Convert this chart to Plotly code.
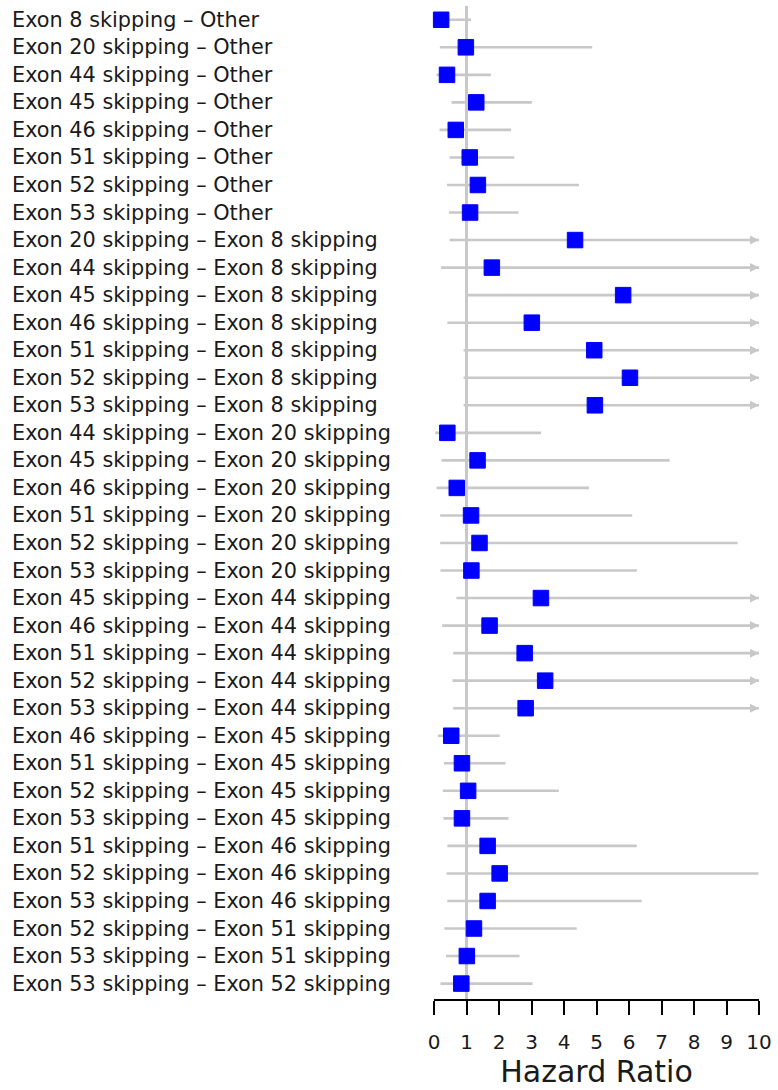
import plotly.graph_objects as go

# Pairwise comparisons (top to bottom)
labels = [
    "Exon 8 skipping – Other",
    "Exon 20 skipping – Other",
    "Exon 44 skipping – Other",
    "Exon 45 skipping – Other",
    "Exon 46 skipping – Other",
    "Exon 51 skipping – Other",
    "Exon 52 skipping – Other",
    "Exon 53 skipping – Other",
    "Exon 20 skipping – Exon 8 skipping",
    "Exon 44 skipping – Exon 8 skipping",
    "Exon 45 skipping – Exon 8 skipping",
    "Exon 46 skipping – Exon 8 skipping",
    "Exon 51 skipping – Exon 8 skipping",
    "Exon 52 skipping – Exon 8 skipping",
    "Exon 53 skipping – Exon 8 skipping",
    "Exon 44 skipping – Exon 20 skipping",
    "Exon 45 skipping – Exon 20 skipping",
    "Exon 46 skipping – Exon 20 skipping",
    "Exon 51 skipping – Exon 20 skipping",
    "Exon 52 skipping – Exon 20 skipping",
    "Exon 53 skipping – Exon 20 skipping",
    "Exon 45 skipping – Exon 44 skipping",
    "Exon 46 skipping – Exon 44 skipping",
    "Exon 51 skipping – Exon 44 skipping",
    "Exon 52 skipping – Exon 44 skipping",
    "Exon 53 skipping – Exon 44 skipping",
    "Exon 46 skipping – Exon 45 skipping",
    "Exon 51 skipping – Exon 45 skipping",
    "Exon 52 skipping – Exon 45 skipping",
    "Exon 53 skipping – Exon 45 skipping",
    "Exon 51 skipping – Exon 46 skipping",
    "Exon 52 skipping – Exon 46 skipping",
    "Exon 53 skipping – Exon 46 skipping",
    "Exon 52 skipping – Exon 51 skipping",
    "Exon 53 skipping – Exon 51 skipping",
    "Exon 53 skipping – Exon 52 skipping",
]

# Hazard ratio point estimates
hazard_ratio = [
    0.22, 0.98, 0.40, 1.30, 0.67, 1.10, 1.35, 1.11,
    4.34, 1.78, 5.82, 3.01, 4.93, 6.03, 4.95,
    0.41, 1.34, 0.70, 1.14, 1.40, 1.15,
    3.29, 1.71, 2.79, 3.42, 2.82,
    0.53, 0.86, 1.05, 0.86,
    1.65, 2.02, 1.65,
    1.23, 1.01,
    0.84,
]

# Lower confidence limits
ci_lower = [
    0.10, 0.18, 0.08, 0.54, 0.17, 0.48, 0.40, 0.46,
    0.48, 0.22, 1.04, 0.41, 0.91, 0.91, 0.91,
    0.04, 0.23, 0.08, 0.19, 0.19, 0.20,
    0.69, 0.25, 0.59, 0.57, 0.59,
    0.12, 0.31, 0.27, 0.29,
    0.41, 0.39, 0.41,
    0.32, 0.37,
    0.20,
]

# Upper confidence limits (None = extends past the axis limit)
ci_upper = [
    1.14, 4.87, 1.75, 3.01, 2.37, 2.47, 4.46, 2.60,
    None, None, None, None, None, None, None,
    3.29, 7.25, 4.77, 6.10, 9.34, 6.24,
    None, None, None, None, None,
    2.02, 2.20, 3.84, 2.29,
    6.24, 9.98, 6.39,
    4.39, 2.63,
    3.03,
]

x_ticks = [0, 1, 2, 3, 4, 5, 6, 7, 8, 9, 10]
X_MAX = 10
REF_VALUE = 1

GREY = "#c8c8c8"
BLUE = "#0000ff"
FONT = "DejaVu Sans"

rows = list(range(len(labels)))

fig = go.Figure()

# Confidence-interval segments, clipped at the axis limit
seg_x, seg_y = [], []
for r, lo, hi in zip(rows, ci_lower, ci_upper):
    seg_x += [lo, X_MAX if hi is None else min(hi, X_MAX), None]
    seg_y += [r, r, None]
fig.add_trace(go.Scatter(
    x=seg_x, y=seg_y, mode="lines",
    line=dict(color=GREY, width=2.6),
    cliponaxis=False, hoverinfo="skip", showlegend=False,
))

# Arrowheads for intervals running past the axis
open_rows = [r for r, hi in zip(rows, ci_upper) if hi is None]
fig.add_trace(go.Scatter(
    x=[X_MAX] * len(open_rows), y=open_rows, mode="markers",
    marker=dict(symbol="arrow-right", size=9, color=GREY, line=dict(width=0)),
    cliponaxis=False, hoverinfo="skip", showlegend=False,
))

# Point estimates
fig.add_trace(go.Scatter(
    x=hazard_ratio, y=rows, mode="markers",
    marker=dict(symbol="square", size=15.5, color=BLUE,
                line=dict(color=BLUE, width=1)),
    cliponaxis=False, showlegend=False,
))

# Reference line at HR = 1
fig.add_shape(type="line", x0=REF_VALUE, x1=REF_VALUE, y0=0, y1=1,
              xref="x", yref="paper", layer="below",
              line=dict(color=GREY, width=3))

# Row labels, left aligned
for r, lab in zip(rows, labels):
    fig.add_annotation(
        x=-1.306, xref="paper", xanchor="left",
        y=r, yref="y", yanchor="middle",
        text=lab, showarrow=False,
        font=dict(family=FONT, size=20.8, color="#1a1a1a"),
    )

fig.update_layout(
    width=778, height=1090,
    margin=dict(l=434, r=14, t=6, b=91),
    paper_bgcolor="white", plot_bgcolor="white",
    xaxis=dict(
        range=[0, X_MAX], tickmode="array", tickvals=x_ticks,
        ticktext=[str(t) for t in x_ticks],
        ticks="outside", ticklen=14, tickwidth=2, tickcolor="black",
        ticklabelstandoff=10,
        showline=True, linecolor="black", linewidth=2,
        showgrid=False, zeroline=False,
        tickfont=dict(family=FONT, size=20, color="#1a1a1a"),
        title=dict(text="Hazard Ratio", standoff=6,
                   font=dict(family=FONT, size=30, color="#1a1a1a")),
    ),
    yaxis=dict(
        range=[35.56, -0.5], showticklabels=False, showgrid=False,
        zeroline=False, showline=False, ticks="",
    ),
)

fig.write_html("out.html")
